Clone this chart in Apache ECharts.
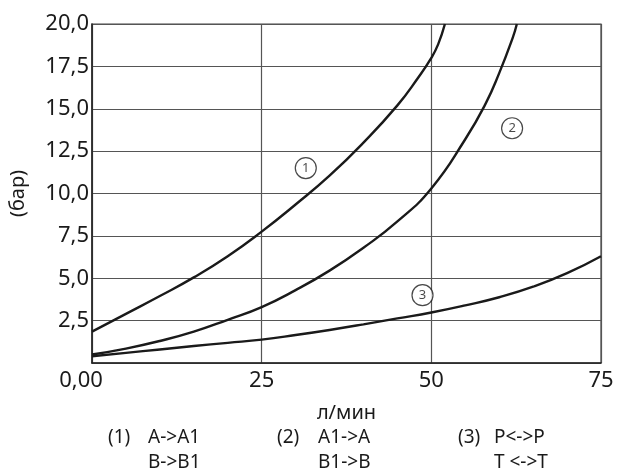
<!DOCTYPE html>
<html><head><meta charset="utf-8">
<script src="https://cdn.jsdelivr.net/npm/echarts@6/dist/echarts.min.js"></script>
<style>html,body{margin:0;padding:0;background:#fff}#c{width:618px;height:475px}</style>
</head><body><div id="c"></div>
<script>
// Curve data: [flow л/мин, pressure бар]
const curve1 = [[0,1.85],[5,2.9],[10,3.95],[15,5.05],[20,6.3],[25,7.75],[30,9.35],[35,11.05],[40,13.0],[45,15.2],[48,16.8],[50,18.0],[51,18.8],[52,20.0]];
const curve2 = [[0,0.5],[5,0.85],[10,1.3],[15,1.85],[20,2.55],[25,3.3],[30,4.3],[35,5.45],[40,6.8],[45,8.35],[50,10.3],[55,13.2],[58,15.3],[60,17.1],[62,19.2],[62.6,20.0]];
const curve3 = [[0,0.4],[5,0.6],[10,0.8],[15,1.0],[20,1.19],[25,1.38],[30,1.65],[35,1.95],[40,2.28],[45,2.63],[50,2.98],[55,3.4],[60,3.88],[65,4.5],[70,5.3],[75,6.3]];
const markers = [[31.5,11.5,'1'],[61.9,13.85,'2'],[48.7,4.0,'3']];
const xTicks = [0,25,50,75];
const yTicks = [0,2.5,5,7.5,10,12.5,15,17.5,20];
const legendCols = [['(1)','A->A1','B->B1'],['(2)','A1->A','B1->B'],['(3)','P<->P','T <->T']];

const FONT = 'Noto Sans';
const TXT = '#1a1a1a';
const chart = echarts.init(document.getElementById('c'));
const lineStyle = {color:'#1a1a1a', width:2.4};
const mkLine = d => ({type:'line', data:d, smooth:0.5, showSymbol:false, symbol:'none', lineStyle, silent:true});

const legendX = [[108,148],[277,318],[458,494]];
const graphics = [];
legendCols.forEach((c,i)=>{
  graphics.push({type:'text', left:legendX[i][0], top:428, style:{text:c[0], font:'19px "'+FONT+'"', fill:TXT}});
  graphics.push({type:'text', left:legendX[i][1], top:428, style:{text:c[1], font:'19px "'+FONT+'"', fill:TXT}});
  graphics.push({type:'text', left:legendX[i][1], top:453, style:{text:c[2], font:'19px "'+FONT+'"', fill:TXT}});
});

chart.setOption({
  animation:false,
  backgroundColor:'#fff',
  grid:{left:91, right:17, top:24, bottom:112, show:true, borderColor:'#444', borderWidth:1.2},
  xAxis:{type:'value', min:0, max:75, interval:25,
    name:'л/мин', nameLocation:'middle', nameGap:40, nameTextStyle:{fontFamily:FONT, fontSize:20, color:TXT},
    axisLine:{show:true, lineStyle:{color:'#222', width:1.5}}, axisTick:{show:false},
    splitLine:{show:true, lineStyle:{color:'#555', width:1.2}},
    axisLabel:{fontFamily:FONT, fontSize:22, color:TXT, margin:7,
      formatter:v=> v===0 ? '{z|0,00}' : String(v),
      rich:{z:{fontFamily:FONT, fontSize:22, color:TXT, padding:[0,22,0,0]}}}
  },
  yAxis:{type:'value', min:0, max:20, interval:2.5,
    name:'(бар)', nameLocation:'middle', nameGap:64, nameRotate:90, nameTextStyle:{fontFamily:FONT, fontSize:20, color:TXT},
    axisLine:{show:true, lineStyle:{color:'#222', width:1.5}}, axisTick:{show:false},
    splitLine:{show:true, lineStyle:{color:'#555', width:1.2}},
    axisLabel:{fontFamily:FONT, fontSize:22, color:TXT, margin:3,
      formatter:v=> v===0 ? '' : v.toFixed(1).replace('.',',')}
  },
  series:[mkLine(curve1), mkLine(curve2), mkLine(curve3),
    {type:'scatter', data:markers.map(m=>({value:[m[0],m[1]], name:m[2]})), symbol:'circle', symbolSize:21,
     itemStyle:{color:'#fff', borderColor:'#1a1a1a', borderWidth:1.2}, silent:true, z:5,
     label:{show:true, position:'inside', formatter:p=>p.name, fontFamily:FONT, fontSize:13, color:TXT}}
  ],
  graphic:graphics
});
</script></body></html>
